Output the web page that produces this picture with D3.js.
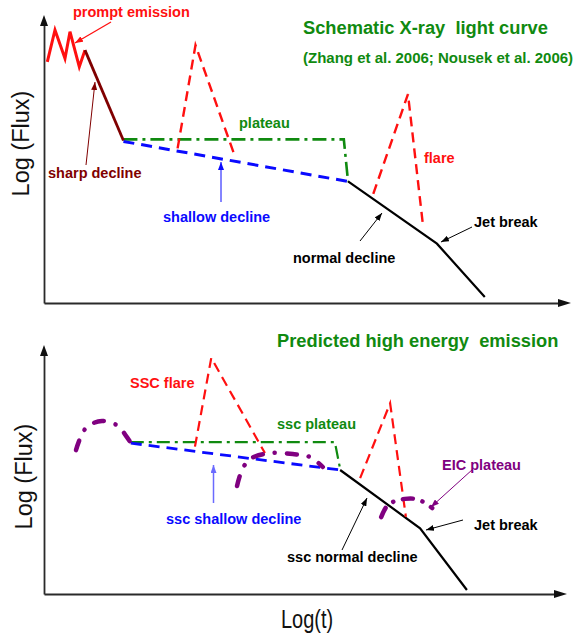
<!DOCTYPE html>
<html><head><meta charset="utf-8">
<script src="https://cdn.jsdelivr.net/npm/d3@7"></script>
<style>body{margin:0;background:#fff} text{font-family:"Liberation Sans",Arial,Helvetica,sans-serif}</style>
</head><body><svg id="c" width="576" height="636"></svg>
<script>
// ---- data: [log t, log flux] in schematic units (0..100) ----
// Top panel: schematic X-ray light curve
const promptEmission = [[0.63,83.7],[2.09,94.8],[3.99,84.9],[4.94,94.2],[6.71,82.0],[7.79,87.8]];
const sharpDecline   = [[7.79,87.8],[15.1,56.4]];
const xrayPlateau    = [[15.1,56.8],[57.0,56.8],[57.8,42.2]];
const xrayShallow    = [[15.1,56.1],[57.8,42.2]];
const xrayNormal     = [[57.8,42.2],[74.7,20.6],[83.8,2.1]];
const xrayFlare1     = [[25.4,53.7],[28.8,89.5],[36.3,50.9]];
const xrayFlare2     = [[62.6,37.9],[69.2,72.5],[72.1,26.2]];
// Bottom panel: predicted high energy emission
const eicEarly       = [[6.08,57.8],[7.98,66.7],[11.03,69.5],[14.07,67.5],[15.59,63.5],[16.54,60.6]];
const sscPlateau     = [[16.5,61.0],[55.3,61.0],[56.3,50.2]];
const sscShallow     = [[16.5,60.6],[56.3,49.8]];
const sscNormal      = [[56.3,49.8],[71.5,26.4],[80.4,1.6]];
const sscFlare1      = [[28.7,59.2],[31.8,94.8],[42.0,56.6]];
const sscFlare2      = [[60.1,46.5],[65.8,76.6],[68.8,31.0]];
const eicMid         = [[36.7,43.4],[37.8,50.6],[39.5,54.6],[43.0,56.6],[47.3,56.2],[50.6,55.0],[53.0,51.0]];
const eicLate        = [[64.1,30.9],[65.2,35.3],[66.7,37.3],[68.6,38.2],[70.5,38.2],[72.2,36.9],[73.8,34.5]];

const topTitle = "Schematic X-ray  light curve";
const topRef = "(Zhang et al. 2006; Nousek et al. 2006)";
const botTitle = "Predicted high energy  emission";
const xLabel = "Log(t)";
const yLabel = "Log (Flux)";

// ---- drawing ----
const RED="#ff1010", DRED="#800000", GREEN="#108a10", BLUE="#0a0aff", PURPLE="#800080", BLACK="#000";
const svg = d3.select("#c");
svg.append("rect").attr("width",576).attr("height",636).attr("fill","#fff");

const x = d3.scaleLinear().domain([0,100]).range([44,570]);
const yTop = d3.scaleLinear().domain([0,100]).range([303,15]);
const yBot = d3.scaleLinear().domain([0,100]).range([594,345]);

const defs = svg.append("defs");
function marker(id,color){
  defs.append("marker").attr("id",id).attr("viewBox","0 -3 8 6").attr("refX",8).attr("refY",0)
    .attr("markerWidth",8).attr("markerHeight",6).attr("markerUnits","userSpaceOnUse").attr("orient","auto")
    .append("path").attr("d","M0,-3L8,0L0,3Z").attr("fill",color);
}
marker("mRed",RED); marker("mDred",DRED); marker("mBlue",BLUE); marker("mBlack",BLACK);
marker("mPurple",PURPLE); marker("mLblue","#6a6aff");

// axes (no ticks), with arrowheads
function axes(yScale, xEnd, yTopPx){
  const xs = d3.scaleLinear().range([44, xEnd-11]);
  const ys = d3.scaleLinear().range([yScale(0), yTopPx+10]);
  const gx = svg.append("g").attr("transform",`translate(0,${yScale(0)})`)
     .call(d3.axisBottom(xs).tickValues([]).tickSizeOuter(0));
  const gy = svg.append("g").attr("transform","translate(44,0)")
     .call(d3.axisLeft(ys).tickValues([]).tickSizeOuter(0));
  [gx,gy].forEach(g=>g.select(".domain").attr("stroke","#2a2a2a").attr("stroke-width",1.8));
  const y0 = yScale(0);
  svg.append("path").attr("d",`M${xEnd},${y0}L${xEnd-13},${y0-4}L${xEnd-13},${y0+4}Z`).attr("fill","#111");
  svg.append("path").attr("d",`M44,${yTopPx}L40,${yTopPx+11}L48,${yTopPx+11}Z`).attr("fill","#111");
}
axes(yTop, 571, 15);
axes(yBot, 567, 345);

function draw(data, yScale, color, width, dash, curve){
  const line = d3.line().x(d=>x(d[0])).y(d=>yScale(d[1])).curve(curve||d3.curveLinear);
  svg.append("path").datum(data).attr("d",line).attr("fill","none")
    .attr("stroke",color).attr("stroke-width",width)
    .attr("stroke-dasharray",dash||null)
    .attr("stroke-linejoin","miter")
    .attr("stroke-linecap", curve ? "round" : "butt");
}
// top panel
draw(xrayPlateau, yTop, GREEN, 2.6, "14,5,3,5");
draw(xrayShallow, yTop, BLUE, 3, "11,7");
draw(xrayFlare1, yTop, RED, 2.4, "10,6");
draw(xrayFlare2, yTop, RED, 2.4, "10,6");
draw(xrayNormal, yTop, BLACK, 2.2);
draw(promptEmission, yTop, RED, 3);
draw(sharpDecline, yTop, DRED, 2.8);
// bottom panel
draw(sscPlateau, yBot, GREEN, 2.2, "13,5,3,5");
draw(sscShallow, yBot, BLUE, 2.8, "11,7");
draw(sscNormal, yBot, BLACK, 2.2);
draw(sscFlare1, yBot, RED, 2.2, "10,6");
draw(sscFlare2, yBot, RED, 2.2, "10,6");
draw(eicEarly, yBot, PURPLE, 4.5, "10,12,0.1,12", d3.curveCatmullRom);
draw(eicMid, yBot, PURPLE, 4.5, "10,12,0.1,12", d3.curveCatmullRom);
draw(eicLate, yBot, PURPLE, 4.5, "10,10,0.1,10", d3.curveCatmullRom);

// annotation arrows
const arrows = [
  [111,22,75,43,RED,"mRed",1.3],
  [86,165,95,82,DRED,"mDred",1],
  [221,202,221,162,BLUE,"mBlue",1],
  [360,241,382,213,BLACK,"mBlack",1],
  [472,227,441,242,BLACK,"mBlack",1],
  [213.5,503,213.5,465,"#6a6aff","mLblue",1.5],
  [342,550,367,498,BLACK,"mBlack",1],
  [473,469,431,507,PURPLE,"mPurple",1],
  [463,520,426,530,BLACK,"mBlack",1]
];
arrows.forEach(a=>svg.append("line").attr("x1",a[0]).attr("y1",a[1]).attr("x2",a[2]).attr("y2",a[3])
  .attr("stroke",a[4]).attr("stroke-width",a[6]).attr("marker-end",`url(#${a[5]})`));

// labels
const labels = [
  ["prompt emission",73,17,RED,14.5],
  ["sharp decline",48,178,DRED,14.5],
  ["plateau",239,128,GREEN,14.5],
  ["shallow decline",163,222,BLUE,14.5],
  ["flare",424,163,RED,14.5],
  ["Jet break",474,227,BLACK,14.5],
  ["normal decline",293,263,BLACK,14.5],
  [topTitle,303,34,GREEN,18.3],
  [topRef,303,63,GREEN,15],
  [botTitle,277,347,GREEN,18.3],
  ["SSC flare",130,388,RED,14.5],
  ["ssc plateau",277,429,GREEN,14.5],
  ["ssc shallow decline",166,524,BLUE,14.5],
  ["ssc normal decline",287,562,BLACK,14.5],
  ["EIC plateau",442,470,PURPLE,14.5],
  ["Jet break",474,530,BLACK,14.5]
];
labels.forEach(l=>svg.append("text").attr("x",l[1]).attr("y",l[2]).attr("fill",l[3])
  .attr("font-size",l[4]).attr("font-weight","bold").style("white-space","pre").text(l[0]));

svg.append("text").attr("transform","translate(307,628) scale(1,1.25)").attr("text-anchor","middle")
  .attr("font-size",20).attr("fill","#111").text(xLabel);
[[28.5,143.5],[32,476.5]].forEach(p=>svg.append("text")
  .attr("transform",`translate(${p[0]},${p[1]}) rotate(-90)`).attr("text-anchor","middle")
  .attr("font-size",23.5).attr("fill","#111").text(yLabel));
</script></body></html>
